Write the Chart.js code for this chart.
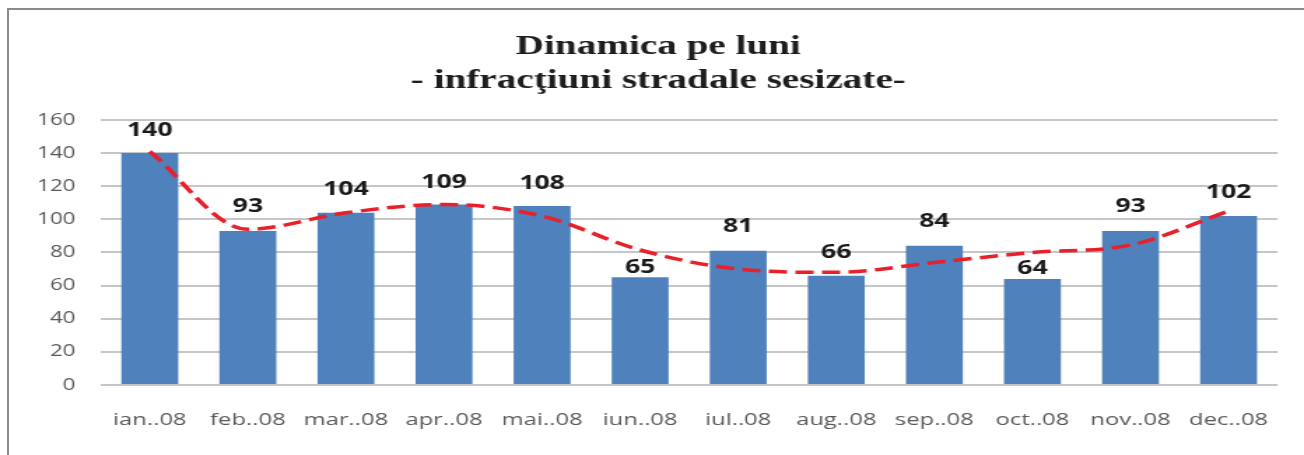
<!DOCTYPE html>
<html>
<head>
<meta charset="utf-8">
<script src="https://cdn.jsdelivr.net/npm/chart.js@4/dist/chart.umd.min.js"></script>
<style>
  html, body { margin: 0; padding: 0; background: #ffffff; overflow: hidden; }
  #frame {
    position: absolute; left: 7px; top: 8px; width: 1310px; height: 460px;
    border-left: 2px solid #8a8a8a; border-top: 2px solid #8a8a8a;
  }
  #chart { position: absolute; left: 0; top: 0; }
</style>
</head>
<body>
<div id="frame"></div>
<!-- the original picture is stretched sideways, so the canvas is too -->
<canvas id="chart" width="932" height="455" style="width:1304px;height:455px"></canvas>
<script>
const months = ["ian..08", "feb..08", "mar..08", "apr..08", "mai..08", "iun..08",
                "iul..08", "aug..08", "sep..08", "oct..08", "nov..08", "dec..08"];
const offences = [140, 93, 104, 109, 108, 65, 81, 66, 84, 64, 93, 102];
// red dashed trend line at each month
const trend = [141, 94, 104, 109, 102, 81.5, 70, 68, 74, 80, 84.5, 105];
const yTicks = [0, 20, 40, 60, 80, 100, 120, 140, 160];
const titleLines = ["Dinamica pe luni", "- infracţiuni stradale sesizate-"];

// how far above each bar its number sits (iun and oct were moved down)
const labelLift = [23, 24, 23, 22, 23, 10, 24, 23, 24, 10, 24, 23];

const valueLabels = {
    id: "valueLabels",
    afterDatasetsDraw(chart) {
        const ctx = chart.ctx;
        const meta = chart.getDatasetMeta(0);
        ctx.save();
        ctx.font = "bold 19px 'Open Sans'";
        ctx.fillStyle = "#1a1a1a";
        ctx.textAlign = "center";
        ctx.textBaseline = "middle";
        meta.data.forEach(function(bar, i) {
            ctx.fillText(String(offences[i]), bar.x, bar.y - labelLift[i]);
        });
        ctx.restore();
    }
};

new Chart(document.getElementById("chart"), {
    data: {
        labels: months,
        datasets: [{
            type: "bar",
            data: offences,
            backgroundColor: "#4f81bd",
            categoryPercentage: 1,
            barPercentage: 0.58,
            order: 2
        }, {
            type: "line",
            data: trend,
            borderColor: "#e8202a",
            borderWidth: 3.5,
            borderDash: [13, 6],
            pointRadius: 0,
            cubicInterpolationMode: "monotone",
            fill: false,
            order: 1
        }]
    },
    options: {
        responsive: false,
        animation: false,
        layout: { padding: { left: 25, right: 16, top: 0, bottom: 0 } },
        plugins: {
            legend: { display: false },
            tooltip: { enabled: false },
            title: {
                display: true,
                text: titleLines,
                color: "#1e1e1e",
                font: { family: "'Liberation Serif'", size: 28, weight: "bold", lineHeight: 1.214 },
                padding: { top: 30, bottom: 22 }
            }
        },
        scales: {
            x: {
                grid: { display: false, drawTicks: false },
                border: { display: false },
                ticks: {
                    color: "#595959",
                    font: { family: "'Open Sans'", size: 17 },
                    padding: 25,
                    maxRotation: 0,
                    autoSkip: false
                },
                afterFit: function(scale) { scale.height = 70; }
            },
            y: {
                min: 0,
                max: 160,
                afterBuildTicks: function(scale) {
                    scale.ticks = yTicks.map(function(v) { return { value: v }; });
                },
                grid: { color: "#c6c6c6", lineWidth: 2, drawTicks: false },
                border: { display: false },
                ticks: {
                    color: "#595959",
                    font: { family: "'Open Sans'", size: 16 },
                    padding: 18
                },
                afterFit: function(scale) { scale.width = 47; }
            }
        }
    },
    plugins: [valueLabels]
});
</script>
</body>
</html>
